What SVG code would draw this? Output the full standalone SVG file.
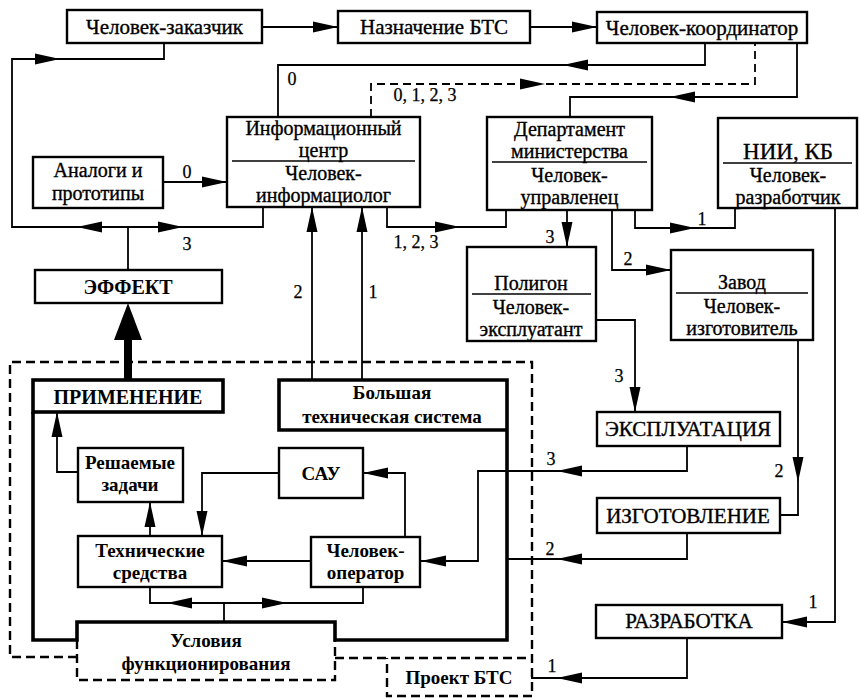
<svg xmlns="http://www.w3.org/2000/svg" xmlns:xlink="http://www.w3.org/1999/xlink" width="860" height="698" viewBox="0 0 860 698">
<style>
  .bg { fill: #fff; }
  .box { fill: #fff; stroke: #000; stroke-width: 2.4; }
  .div { stroke: #000; stroke-width: 1.6; fill: none; }
  .thick { fill: none; stroke: #000; stroke-width: 3.6; stroke-linejoin: miter; }
  .dash { fill: none; stroke: #000; stroke-width: 2.4; stroke-dasharray: 9 5; }
  .ln { fill: none; stroke: #000; stroke-width: 1.8; }
  .lnd { fill: none; stroke: #000; stroke-width: 1.8; stroke-dasharray: 8 5; }
  text { font-family: "Liberation Serif", "Times New Roman", serif; fill: #000; text-anchor: middle; }
  .t { font-size: 21px; stroke: #000; stroke-width: 0.35; }
  .m { font-size: 20px; stroke: #000; stroke-width: 0.35; }
  .tb { font-size: 19px; font-weight: bold; }
  .big { font-size: 21px; stroke: #000; stroke-width: 0.35; }
  .lbl { font-size: 18px; stroke: #000; stroke-width: 0.25; }
</style>
<defs>
  <!-- arrowhead, tip at origin, pointing along +x -->
  <path id="ah" d="M0,0 L-25,-5.5 L-25,5.5 Z" fill="#000"/>
</defs>
<rect class="bg" x="0" y="0" width="860" height="698"/>

<!-- system boundaries -->
<g id="boundaries">
  <path class="dash" d="M77,657 L10,657 L10,362 L532,362 L532,696 L387,696 L387,658 M335,658 L532,658"/>
  <path class="dash" d="M77,640 L77,680 L335,680 L335,640"/>
  <path class="thick" d="M33,412 L33,640 L77,640 L77,622 L335,622 L335,640 L507,640 L507,380 L279,380 L279,430 L507,430"/>
</g>

<!-- connectors -->
<g id="connectors">
  <path class="ln" d="M262,27 L338,27"/>
  <path class="ln" d="M530,27 L597,27"/>
  <path class="ln" d="M705,43 L705,65 L278,65 L278,117"/>
  <path class="lnd" d="M371,117 L371,84 L755,84 L755,43"/>
  <path class="ln" d="M797,43 L797,97 L570,97 L570,117"/>
  <path class="ln" d="M163,182 L227,182"/>
  <path class="ln" d="M263,207 L263,227 L12,227 L12,59 L164,59 L164,43"/>
  <path class="ln" d="M128,270 L128,227"/>
  <path class="ln" d="M387,207 L387,227 L506,227 L506,210"/>
  <path class="ln" d="M567,210 L567,247"/>
  <path class="ln" d="M612,210 L612,270 L671,270"/>
  <path class="ln" d="M635,210 L635,228 L735,228 L735,208"/>
  <path class="ln" d="M835,208 L835,622 L782,622"/>
  <path class="ln" d="M596,320 L635,320 L635,412"/>
  <path class="ln" d="M798,340 L798,515 L780,515"/>
  <path class="ln" d="M687,446 L687,471 L478,471 L478,561 L421,561"/>
  <path class="ln" d="M687,533 L687,559 L507,559"/>
  <path class="ln" d="M687,638 L687,678 L531,678"/>
  <path class="ln" d="M312,380 L312,207"/>
  <path class="ln" d="M362,380 L362,207"/>
  <path class="ln" d="M78,472 L57,472 L57,412"/>
  <path class="ln" d="M150,536 L150,502"/>
  <path class="ln" d="M279,473 L202,473 L202,536"/>
  <path class="ln" d="M405,537 L405,473 L363,473"/>
  <path class="ln" d="M311,561 L222,561"/>
  <path class="ln" d="M150,587 L150,603 L363,603 L363,587"/>
  <path class="ln" d="M224,603 L224,622"/>
  <!-- heavy arrow ПРИМЕНЕНИЕ -> ЭФФЕКТ -->
  <rect x="124" y="334" width="8" height="46" fill="#000"/>
  <path d="M128,303 L114,340 L142,340 Z" fill="#000"/>

  <use xlink:href="#ah" transform="translate(338,27)"/>
  <use xlink:href="#ah" transform="translate(597,27)"/>
  <use xlink:href="#ah" transform="translate(60,59)"/>
  <use xlink:href="#ah" transform="translate(563,65) rotate(180)"/>
  <use xlink:href="#ah" transform="translate(545,84)"/>
  <use xlink:href="#ah" transform="translate(670,97) rotate(180)"/>
  <use xlink:href="#ah" transform="translate(227,182)"/>
  <use xlink:href="#ah" transform="translate(77,227) rotate(180)"/>
  <use xlink:href="#ah" transform="translate(183,227)"/>
  <use xlink:href="#ah" transform="translate(460,227)"/>
  <use xlink:href="#ah" transform="translate(567,247) rotate(90)"/>
  <use xlink:href="#ah" transform="translate(671,270)"/>
  <use xlink:href="#ah" transform="translate(695,228)"/>
  <use xlink:href="#ah" transform="translate(782,622) rotate(180)"/>
  <use xlink:href="#ah" transform="translate(635,412) rotate(90)"/>
  <use xlink:href="#ah" transform="translate(798,482) rotate(90)"/>
  <use xlink:href="#ah" transform="translate(557,471) rotate(180)"/>
  <use xlink:href="#ah" transform="translate(421,561) rotate(180)"/>
  <use xlink:href="#ah" transform="translate(557,559) rotate(180)"/>
  <use xlink:href="#ah" transform="translate(557,678) rotate(180)"/>
  <use xlink:href="#ah" transform="translate(312,207) rotate(-90)"/>
  <use xlink:href="#ah" transform="translate(362,207) rotate(-90)"/>
  <use xlink:href="#ah" transform="translate(57,412) rotate(-90)"/>
  <use xlink:href="#ah" transform="translate(150,502) rotate(-90)"/>
  <use xlink:href="#ah" transform="translate(202,536) rotate(90)"/>
  <use xlink:href="#ah" transform="translate(363,473) rotate(180)"/>
  <use xlink:href="#ah" transform="translate(222,561) rotate(180)"/>
  <use xlink:href="#ah" transform="translate(167,603) rotate(180)"/>
  <use xlink:href="#ah" transform="translate(287,603)"/>

  <!-- flow labels -->
  <text class="lbl" x="292" y="85">0</text>
  <text class="lbl" x="425" y="101">0, 1, 2, 3</text>
  <text class="lbl" x="187" y="178">0</text>
  <text class="lbl" x="187" y="250">3</text>
  <text class="lbl" x="416" y="248">1, 2, 3</text>
  <text class="lbl" x="550" y="243">3</text>
  <text class="lbl" x="628" y="265">2</text>
  <text class="lbl" x="702" y="225">1</text>
  <text class="lbl" x="298" y="298">2</text>
  <text class="lbl" x="373" y="298">1</text>
  <text class="lbl" x="619" y="382">3</text>
  <text class="lbl" x="779" y="477">2</text>
  <text class="lbl" x="551" y="465">3</text>
  <text class="lbl" x="550" y="555">2</text>
  <text class="lbl" x="813" y="608">1</text>
  <text class="lbl" x="552" y="672">1</text>
</g>

<!-- nodes -->
<g id="chelovek-zakazchik">
  <rect class="box" x="67" y="10" width="195" height="33"/>
  <text class="t" x="164.5" y="34">Человек-заказчик</text>
</g>
<g id="naznachenie-bts">
  <rect class="box" x="338" y="11" width="192" height="32"/>
  <text class="t" x="434" y="34">Назначение БТС</text>
</g>
<g id="chelovek-koordinator">
  <rect class="box" x="597" y="12" width="210" height="31"/>
  <text class="t" x="702" y="35">Человек-координатор</text>
</g>
<g id="analogi">
  <rect class="box" x="33" y="157" width="130" height="51"/>
  <text class="m" x="98" y="177">Аналоги и</text>
  <text class="m" x="98" y="200">прототипы</text>
</g>
<g id="info-centr">
  <rect class="box" x="227" y="117" width="193" height="90"/>
  <line class="div" x1="232" y1="161" x2="415" y2="161"/>
  <text class="m" x="323.5" y="135">Информационный</text>
  <text class="m" x="323.5" y="157">центр</text>
  <text class="m" x="323.5" y="180">Человек-</text>
  <text class="m" x="323.5" y="202">информациолог</text>
</g>
<g id="departament">
  <rect class="box" x="487" y="117" width="165" height="93"/>
  <line class="div" x1="492" y1="162" x2="647" y2="162"/>
  <text class="m" x="569.5" y="136">Департамент</text>
  <text class="m" x="569.5" y="158">министерства</text>
  <text class="m" x="569.5" y="182">Человек-</text>
  <text class="m" x="569.5" y="204">управленец</text>
</g>
<g id="nii-kb">
  <rect class="box" x="718" y="118" width="139" height="90"/>
  <line class="div" x1="723" y1="163" x2="852" y2="163"/>
  <text class="t" x="788" y="159" style="font-size:23px">НИИ, КБ</text>
  <text class="m" x="788" y="182">Человек-</text>
  <text class="m" x="788" y="204">разработчик</text>
</g>
<g id="poligon">
  <rect class="box" x="467" y="247" width="129" height="94"/>
  <line class="div" x1="472" y1="294" x2="591" y2="294"/>
  <text class="m" x="531" y="290">Полигон</text>
  <text class="m" x="531" y="314">Человек-</text>
  <text class="m" x="531" y="336">эксплуатант</text>
</g>
<g id="zavod">
  <rect class="box" x="671" y="250" width="142" height="90"/>
  <line class="div" x1="676" y1="293" x2="808" y2="293"/>
  <text class="m" x="742" y="289">Завод</text>
  <text class="m" x="742" y="313">Человек-</text>
  <text class="m" x="742" y="335">изготовитель</text>
</g>
<g id="effekt">
  <rect class="box" x="35" y="270" width="187" height="33"/>
  <text class="tb" x="128" y="294" style="font-size:20px">ЭФФЕКТ</text>
</g>
<g id="primenenie">
  <rect class="thick" x="33" y="380" width="190" height="32"/>
  <text class="tb" x="128" y="404" style="font-size:20px">ПРИМЕНЕНИЕ</text>
</g>
<g id="bolshaya-ts">
  <text class="tb" x="392" y="399">Большая</text>
  <text class="tb" x="392" y="423">техническая система</text>
</g>
<g id="reshaemye-zadachi">
  <rect class="box" x="78" y="448" width="105" height="54"/>
  <text class="tb" x="130" y="469">Решаемые</text>
  <text class="tb" x="130" y="491">задачи</text>
</g>
<g id="sau">
  <rect class="box" x="279" y="448" width="84" height="50"/>
  <text class="tb" x="321" y="480">САУ</text>
</g>
<g id="tehnicheskie-sredstva">
  <rect class="box" x="78" y="536" width="144" height="51"/>
  <text class="tb" x="150" y="557">Технические</text>
  <text class="tb" x="150" y="579">средства</text>
</g>
<g id="chelovek-operator">
  <rect class="box" x="311" y="537" width="109" height="50"/>
  <text class="tb" x="365.5" y="557">Человек-</text>
  <text class="tb" x="365.5" y="579">оператор</text>
</g>
<g id="usloviya">
  <text class="tb" x="206" y="647">Условия</text>
  <text class="tb" x="206" y="670">функционирования</text>
</g>
<g id="proekt-bts">
  <text class="tb" x="459" y="684">Проект БТС</text>
</g>
<g id="ekspluataciya">
  <rect class="box" x="597" y="412" width="183" height="34"/>
  <text class="big" x="688" y="436">ЭКСПЛУАТАЦИЯ</text>
</g>
<g id="izgotovlenie">
  <rect class="box" x="597" y="498" width="183" height="35"/>
  <text class="big" x="688" y="523">ИЗГОТОВЛЕНИЕ</text>
</g>
<g id="razrabotka">
  <rect class="box" x="596" y="605" width="186" height="33"/>
  <text class="big" x="689" y="628">РАЗРАБОТКА</text>
</g>
</svg>
